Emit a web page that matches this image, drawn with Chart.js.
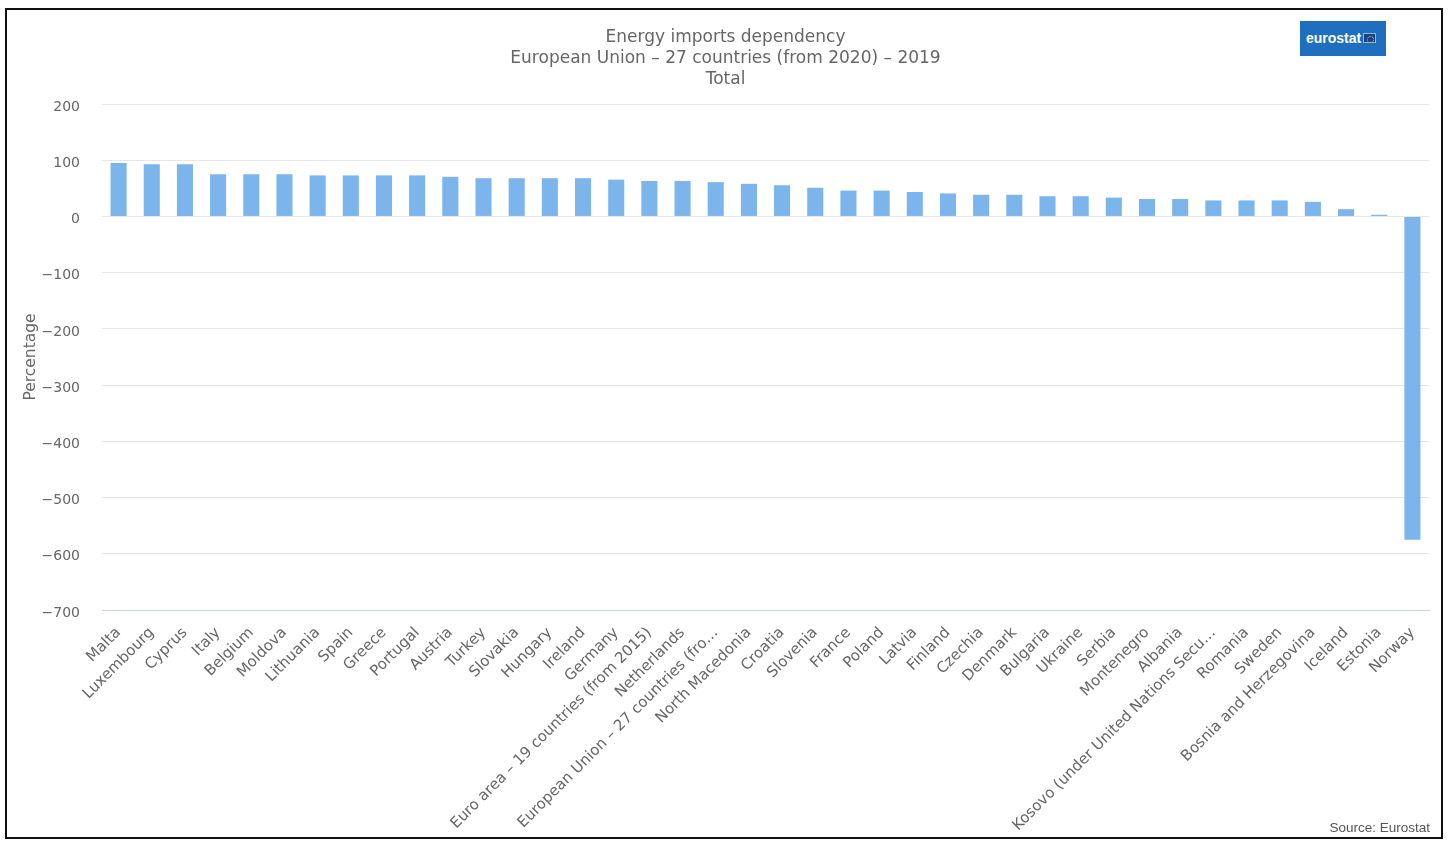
<!DOCTYPE html>
<html>
<head>
<meta charset="utf-8">
<script src="https://cdn.jsdelivr.net/npm/chart.js@4"></script>
<style>
  html, body { margin: 0; padding: 0; background: #fff; }
  #frame { position: absolute; left: 5px; top: 8px; width: 1438px; height: 831px; border: 2px solid #111; box-sizing: border-box; }
  #wrap { position: absolute; left: 0; top: 0; width: 1453px; height: 842px; }
  #logo { position: absolute; left: 1300px; top: 21px; width: 86px; height: 35px; background: #1e6fbf; color: #fff;
          font-family: "Liberation Sans", Arial, sans-serif; font-weight: bold; font-size: 14px; line-height: 35px; text-indent: 6px; }
  #logo span { position: absolute; left: 63px; top: 12px; width: 13px; height: 10px; box-sizing: border-box; border: 1px solid #8fb8e0; background: #16418c; }
  #logo span i { position: absolute; left: 3px; top: 1.5px; width: 5px; height: 5px; border: 1px dotted #d8c030; border-radius: 50%; }
  #source { position: absolute; right: 23px; top: 820px; font-family: "Liberation Sans", Arial, sans-serif; font-size: 13.5px; color: #555; }
</style>
</head>
<body>
<div id="frame"></div>
<div id="wrap"><canvas id="c" width="1453" height="842"></canvas></div>
<div id="logo">eurostat<span><i></i></span></div>
<div id="source">Source: Eurostat</div>
<script>
const titleLines = ["Energy imports dependency", "European Union \u2013 27 countries (from 2020) \u2013 2019", "Total"];
const yAxisTitle = "Percentage";
const categories = [
  "Malta", "Luxembourg", "Cyprus", "Italy", "Belgium", "Moldova", "Lithuania", "Spain", "Greece", "Portugal",
  "Austria", "Turkey", "Slovakia", "Hungary", "Ireland", "Germany", "Euro area \u2013 19 countries (from 2015)",
  "Netherlands", "European Union \u2013 27 countries (fro\u2026", "North Macedonia", "Croatia", "Slovenia", "France",
  "Poland", "Latvia", "Finland", "Czechia", "Denmark", "Bulgaria", "Ukraine", "Serbia", "Montenegro", "Albania",
  "Kosovo (under United Nations Secu\u2026", "Romania", "Sweden", "Bosnia and Herzegovina", "Iceland", "Estonia", "Norway"
];
const values = [
  95, 93, 93, 75, 75, 75, 73, 73, 73, 73,
  70.5, 68, 68, 68, 68, 65.5, 63, 63, 61, 58,
  55.5, 51, 46, 46, 43.5, 41, 38.5, 38.5, 36, 36,
  33.5, 31, 31, 28.5, 28.5, 28.5, 26, 13, 3, -575
];
const yMin = -700, yMax = 200, yStep = 100;

const font = '"DejaVu Sans", "Open Sans", sans-serif';

new Chart(document.getElementById('c'), {
  type: 'bar',
  data: {
    labels: categories,
    datasets: [{ data: values, backgroundColor: '#7cb5ec', borderWidth: 0, barPercentage: 0.97, categoryPercentage: 0.5 }]
  },
  options: {
    responsive: false,
    animation: false,
    devicePixelRatio: 1,
    layout: { padding: { left: 22, right: 24, top: 27, bottom: 12 } },
    plugins: {
      legend: { display: false },
      tooltip: { enabled: false },
      title: {
        display: true,
        text: titleLines,
        color: '#666',
        font: { family: font, size: 17, weight: 'normal', lineHeight: 21 / 17 },
        padding: { top: 0, bottom: 14 }
      }
    },
    scales: {
      x: {
        offset: true,
        grid: { display: false },
        border: { display: true, color: '#ccd6eb', width: 1 },
        ticks: {
          autoSkip: false, maxRotation: 45, minRotation: 45,
          color: '#666', padding: 6,
          font: { family: font, size: 15 }
        },
        afterFit(s) { s.height = 220; }
      },
      y: {
        min: yMin, max: yMax,
        border: { display: false },
        grid: {
          drawTicks: false,
          color: (ctx) => (ctx.tick && ctx.tick.value === yMin) ? '#ccd6eb' : '#e6e6e6',
          lineWidth: 1
        },
        ticks: {
          stepSize: yStep, padding: 22, color: '#666', labelOffset: 3,
          font: { family: font, size: 14 },
          callback: (v) => String(v).replace('-', '\u2212')
        },
        title: {
          display: true, text: yAxisTitle, color: '#666',
          font: { family: font, size: 15.5 },
          padding: { top: 0, bottom: 0 }
        },
        afterFit(s) { s.width = 80; }
      }
    }
  }
});
</script>
</body>
</html>
